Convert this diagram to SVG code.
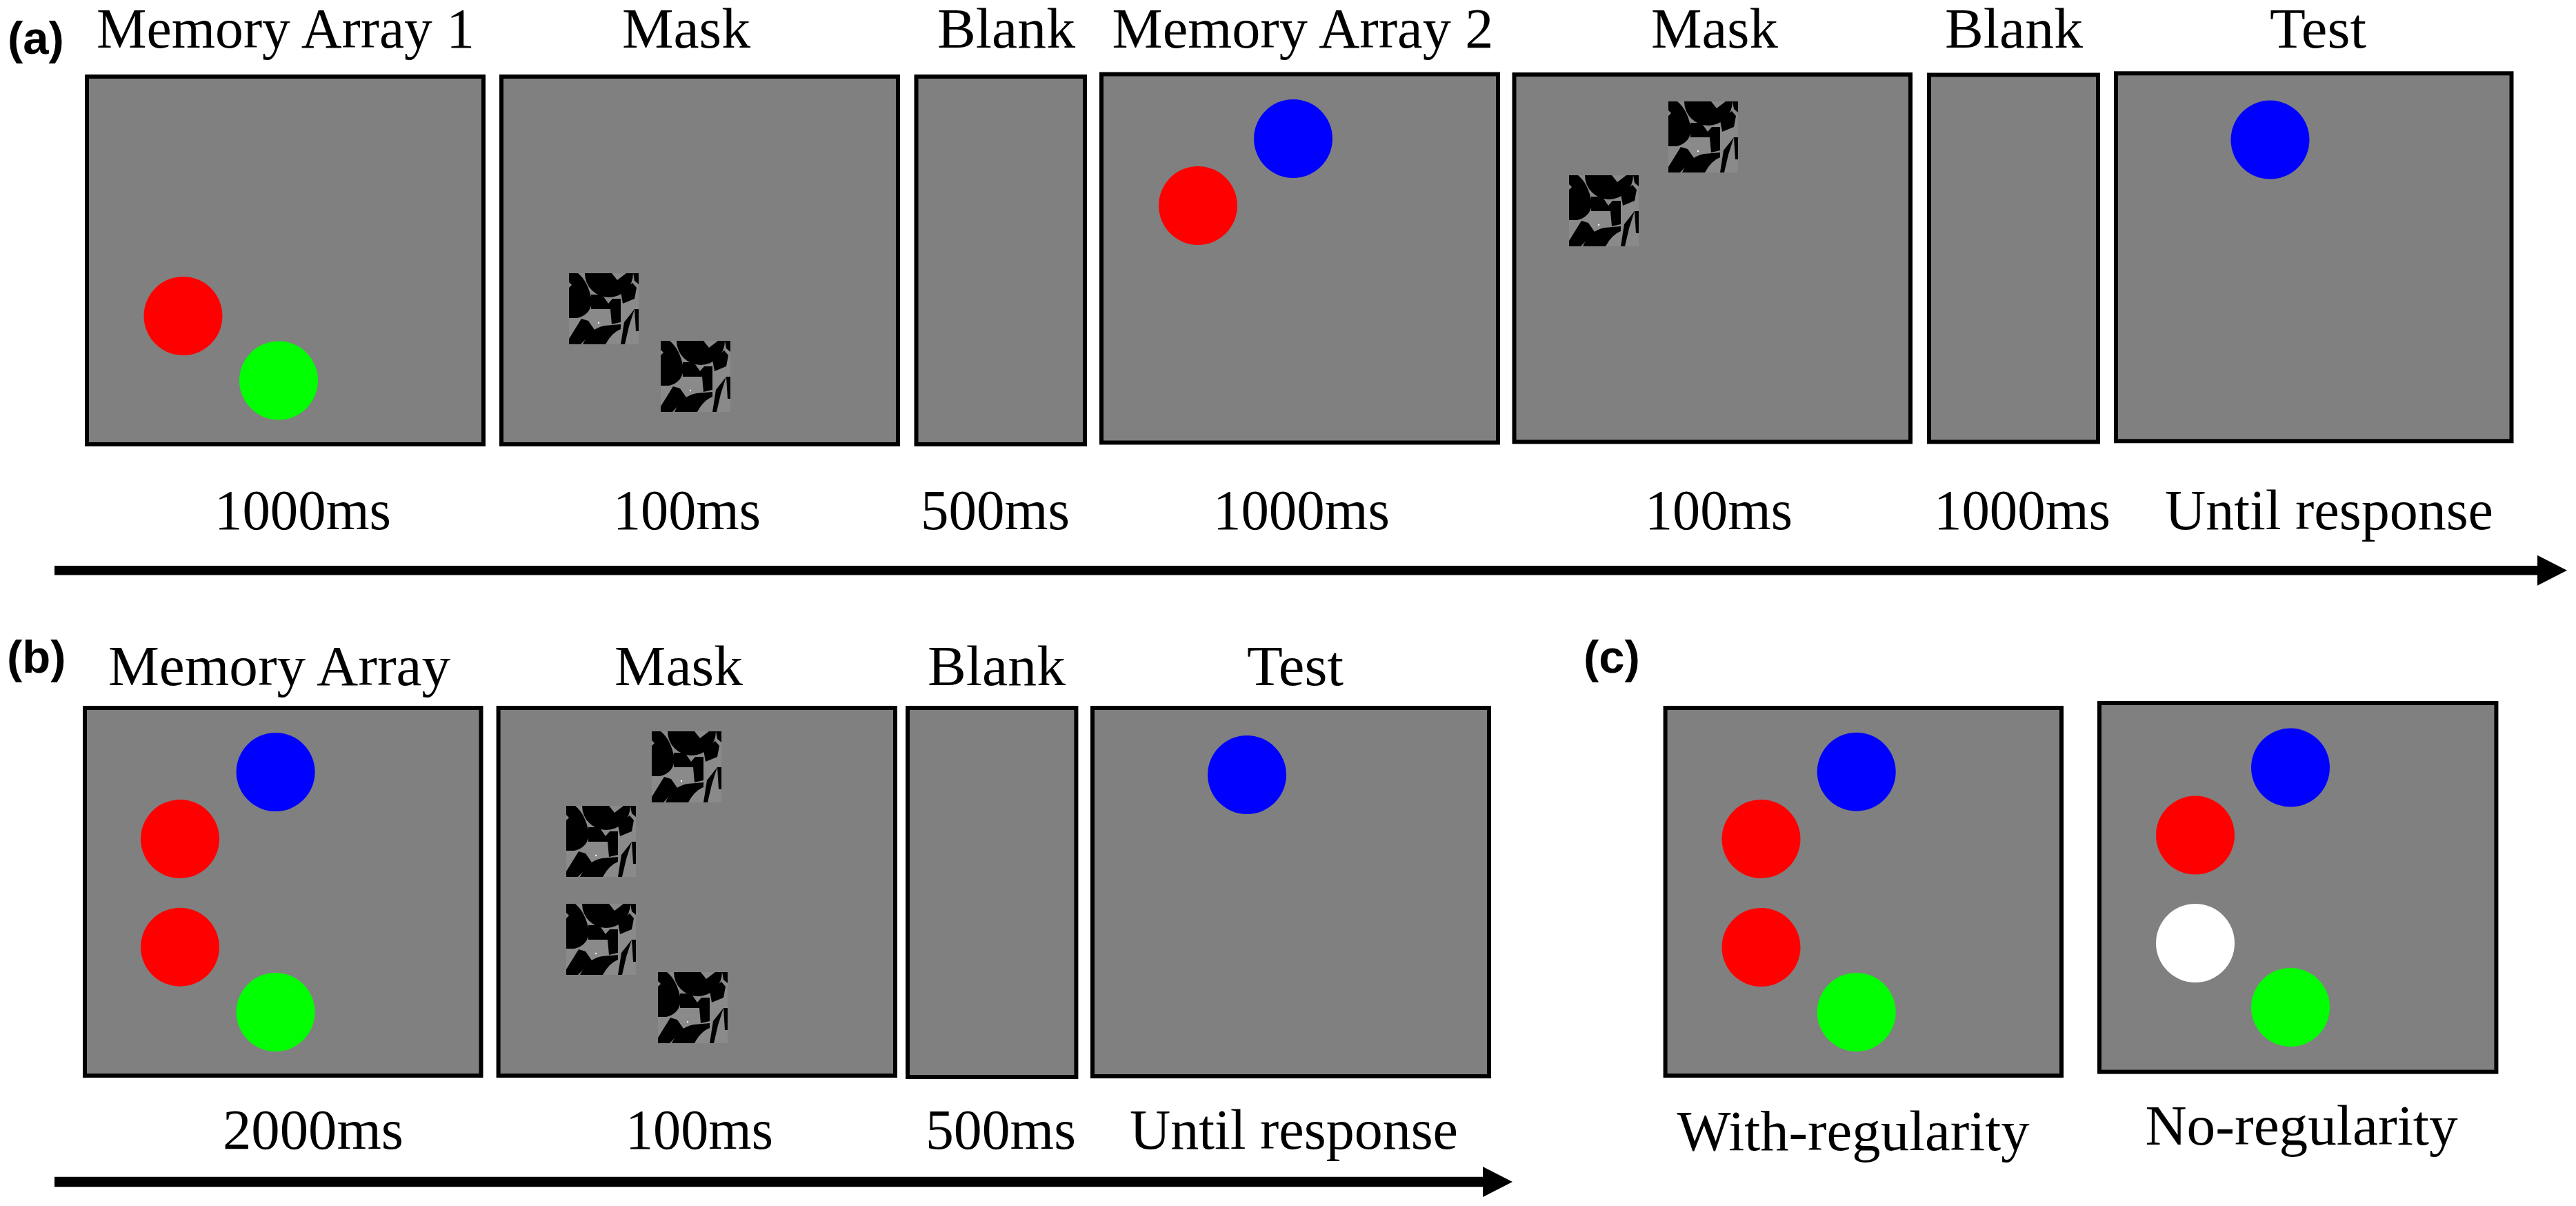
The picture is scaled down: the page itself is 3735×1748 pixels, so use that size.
<svg xmlns="http://www.w3.org/2000/svg" xmlns:xlink="http://www.w3.org/1999/xlink" width="3735" height="1748" viewBox="0 0 3735 1748" font-family="Liberation Serif, serif">
<style>
.scr{fill:#808080;stroke:#000;stroke-width:6}
.ttl{font-family:"Liberation Serif","Times New Roman",serif;font-size:83px;fill:#000;text-anchor:middle}
.lab{font-family:"Liberation Sans",Arial,sans-serif;font-weight:bold;font-size:67px;fill:#000}
.r{fill:#ff0000}.g{fill:#00ff00}.b{fill:#0000ff}.w{fill:#ffffff}
.ax{stroke:#000;fill:none}
</style>
<defs>
<symbol id="maskpat" viewBox="0 0 101 103" preserveAspectRatio="none">
<rect width="101" height="103" fill="#8a8a8a"/>
<path d="M0,0 L13,0 Q28,12 33,40 Q32,60 12,65 L0,65 Z" fill="#000"/>
<polygon points="0,13 4,17 0,21" fill="#8a8a8a"/>
<path d="M23,0 A35,35 0 0 0 93,0 Z" fill="#000"/>
<polygon points="62,0 70,10 83,0" fill="#8a8a8a"/>
<polygon points="32,31 48,31 57,44 63,37 75,37 75,71 62,74 60,52 32,52" fill="#000"/>
<polygon points="75,27 92,14 98,21 95,37 78,44" fill="#000"/>
<polygon points="93,0 101,0 101,16 95,11" fill="#000"/>
<polygon points="75,103 80,71 95,52 87,77 81,103" fill="#000"/>
<polygon points="95,52 101,52 101,84 97,84" fill="#000"/>
<polygon points="18,66 28,69 37,82 17,103 0,103 0,95" fill="#000"/>
<path d="M20,103 Q30,80 52,76 L75,74 L75,81 Q62,86 53,103 Z" fill="#000"/>
<circle cx="43" cy="72" r="1.2" fill="#fff"/>
</symbol>
<marker id="ah" markerUnits="userSpaceOnUse" markerWidth="44" markerHeight="44" refX="0" refY="22" orient="auto">
<path d="M0,0 L43,22 L0,44 Z" fill="#000"/>
</marker>
</defs>

<g id="panel-labels">
<text class="lab" x="11" y="78">(a)</text>
<text class="lab" x="10" y="975">(b)</text>
<text class="lab" x="2296" y="975">(c)</text>
</g>

<!-- Row (a) -->
<g id="a-memory-array-1">
<text class="ttl" x="414" y="69" textLength="548" lengthAdjust="spacingAndGlyphs">Memory Array 1</text>
<rect class="scr" x="126" y="111" width="575" height="533"/>
<circle class="r" cx="265.5" cy="458" r="57"/>
<circle class="g" cx="404" cy="551.5" r="57"/>
<text class="ttl" x="439" y="767" textLength="256" lengthAdjust="spacingAndGlyphs">1000ms</text>
</g>
<g id="a-mask-1">
<text class="ttl" x="995" y="69" textLength="186" lengthAdjust="spacingAndGlyphs">Mask</text>
<rect class="scr" x="727" y="111" width="575" height="533"/>
<use xlink:href="#maskpat" x="825" y="396" width="101" height="103"/>
<use xlink:href="#maskpat" x="958" y="494" width="101" height="103"/>
<text class="ttl" x="996" y="767" textLength="214" lengthAdjust="spacingAndGlyphs">100ms</text>
</g>
<g id="a-blank-1">
<text class="ttl" x="1459" y="69" textLength="200" lengthAdjust="spacingAndGlyphs">Blank</text>
<rect class="scr" x="1328.5" y="111" width="244.5" height="533"/>
<text class="ttl" x="1443" y="767" textLength="216" lengthAdjust="spacingAndGlyphs">500ms</text>
</g>
<g id="a-memory-array-2">
<text class="ttl" x="1889" y="69" textLength="553" lengthAdjust="spacingAndGlyphs">Memory Array 2</text>
<rect class="scr" x="1597" y="107.5" width="575" height="534"/>
<circle class="b" cx="1875" cy="201" r="57"/>
<circle class="r" cx="1737" cy="298" r="57"/>
<text class="ttl" x="1887" y="767" textLength="256" lengthAdjust="spacingAndGlyphs">1000ms</text>
</g>
<g id="a-mask-2">
<text class="ttl" x="2486" y="69" textLength="184" lengthAdjust="spacingAndGlyphs">Mask</text>
<rect class="scr" x="2195.5" y="108" width="574.5" height="532.5"/>
<use xlink:href="#maskpat" x="2419" y="147" width="101" height="103"/>
<use xlink:href="#maskpat" x="2275" y="254" width="101" height="103"/>
<text class="ttl" x="2492" y="767" textLength="214" lengthAdjust="spacingAndGlyphs">100ms</text>
</g>
<g id="a-blank-2">
<text class="ttl" x="2920" y="69" textLength="200" lengthAdjust="spacingAndGlyphs">Blank</text>
<rect class="scr" x="2797" y="108.5" width="245" height="532"/>
<text class="ttl" x="2932" y="767" textLength="256" lengthAdjust="spacingAndGlyphs">1000ms</text>
</g>
<g id="a-test">
<text class="ttl" x="3361" y="69" textLength="140" lengthAdjust="spacingAndGlyphs">Test</text>
<rect class="scr" x="3068" y="106.3" width="573.5" height="533"/>
<circle class="b" cx="3291.5" cy="202.6" r="57"/>
<text class="ttl" x="3377" y="767" textLength="476" lengthAdjust="spacingAndGlyphs">Until response</text>
</g>

<!-- Row (b) -->
<g id="b-memory-array">
<text class="ttl" x="405" y="993" textLength="496" lengthAdjust="spacingAndGlyphs">Memory Array</text>
<rect class="scr" x="123" y="1026" width="574.5" height="533"/>
<circle class="b" cx="399.6" cy="1119" r="57"/>
<circle class="r" cx="261" cy="1216" r="57"/>
<circle class="r" cx="261" cy="1372.7" r="57"/>
<circle class="g" cx="399.6" cy="1467" r="57"/>
<text class="ttl" x="454" y="1665" textLength="262" lengthAdjust="spacingAndGlyphs">2000ms</text>
</g>
<g id="b-mask">
<text class="ttl" x="984" y="993" textLength="186" lengthAdjust="spacingAndGlyphs">Mask</text>
<rect class="scr" x="722.6" y="1026" width="575.4" height="533"/>
<use xlink:href="#maskpat" x="945" y="1060" width="101" height="103"/>
<use xlink:href="#maskpat" x="821" y="1168" width="101" height="103"/>
<use xlink:href="#maskpat" x="821" y="1310" width="101" height="103"/>
<use xlink:href="#maskpat" x="954" y="1409" width="101" height="103"/>
<text class="ttl" x="1014" y="1665" textLength="214" lengthAdjust="spacingAndGlyphs">100ms</text>
</g>
<g id="b-blank">
<text class="ttl" x="1445" y="993" textLength="200" lengthAdjust="spacingAndGlyphs">Blank</text>
<rect class="scr" x="1316" y="1026" width="244.4" height="535"/>
<text class="ttl" x="1451" y="1665" textLength="218" lengthAdjust="spacingAndGlyphs">500ms</text>
</g>
<g id="b-test">
<text class="ttl" x="1878" y="993" textLength="140" lengthAdjust="spacingAndGlyphs">Test</text>
<rect class="scr" x="1584" y="1026" width="575" height="534"/>
<circle class="b" cx="1808" cy="1123" r="57"/>
<text class="ttl" x="1876" y="1665" textLength="476" lengthAdjust="spacingAndGlyphs">Until response</text>
</g>

<!-- Panel (c) -->
<g id="c-with-regularity">
<rect class="scr" x="2414.6" y="1026" width="574.4" height="533"/>
<circle class="b" cx="2691.7" cy="1118.7" r="57"/>
<circle class="r" cx="2553.5" cy="1216" r="57"/>
<circle class="r" cx="2553.5" cy="1373" r="57"/>
<circle class="g" cx="2691.7" cy="1467" r="57"/>
<text class="ttl" x="2687" y="1667" textLength="511" lengthAdjust="spacingAndGlyphs">With-regularity</text>
</g>
<g id="c-no-regularity">
<rect class="scr" x="3044" y="1019" width="575.4" height="534.6"/>
<circle class="b" cx="3321" cy="1112.6" r="57"/>
<circle class="r" cx="3183" cy="1210.6" r="57"/>
<circle class="w" cx="3183" cy="1367" r="57"/>
<circle class="g" cx="3321" cy="1460" r="57"/>
<text class="ttl" x="3337" y="1659" textLength="453" lengthAdjust="spacingAndGlyphs">No-regularity</text>
</g>

<g id="connectors">
<line class="ax" x1="79" y1="826.8" x2="3679" y2="826.8" stroke-width="13.5" marker-end="url(#ah)"/>
<line class="ax" x1="79" y1="1713" x2="2150" y2="1713" stroke-width="14.5" marker-end="url(#ah)"/>
</g>
</svg>
